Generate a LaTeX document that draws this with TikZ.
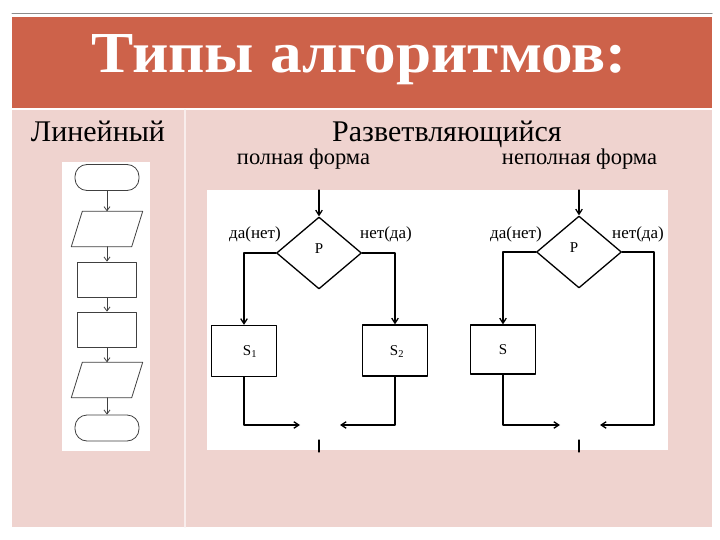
\documentclass[tikz,border=0pt]{standalone}
\usepackage{fontspec}
\setmainfont{Liberation Serif}
\usetikzlibrary{arrows.meta,shapes.geometric,positioning}
\definecolor{titlered}{RGB}{205,98,74}
\definecolor{bodypink}{RGB}{239,211,207}
\definecolor{rulegray}{RGB}{140,140,140}
\newcommand{\ioslant}{5.5pt}
\tikzset{
  flow line/.style={line width=.8pt,draw=black!75},
  flow arrow/.style={flow line,-{Straight Barb[length=4pt,width=6pt]}},
  branch line/.style={line width=1.3pt},
  branch arrow/.style={branch line,-{Straight Barb[length=5pt,width=6.5pt]}},
  start stop/.style={draw=black!75,line width=.8pt,rectangle,rounded corners=12pt,minimum width=64pt,minimum height=26pt,inner sep=0pt},
  io box/.style={rectangle,minimum width=60pt,minimum height=35pt,inner sep=0pt},
  step box/.style={draw=black!75,line width=.8pt,rectangle,minimum width=59pt,minimum height=35pt,inner sep=0pt},
  cond box/.style={draw,line width=1.3pt,diamond,minimum width=85pt,minimum height=72pt,inner sep=0pt},
  act box/.style={draw,line width=1.3pt,rectangle,minimum width=65pt,minimum height=51pt,inner sep=0pt},
  head label/.style={font=\fontsize{30}{30}\selectfont,inner sep=0pt,anchor=base},
  sub label/.style={font=\fontsize{22.5}{22.5}\selectfont,inner sep=0pt,anchor=base},
  branch label/.style={font=\fontsize{17}{17}\selectfont,inner sep=0pt,anchor=base},
  box label/.style={font=\fontsize{15}{15}\selectfont,inner sep=0pt,anchor=base}
}
\newcommand{\IOShape}[1]{\draw[flow line] ([xshift=-\ioslant]#1.south west) -- ([xshift=\ioslant]#1.north west)
  -- ([xshift=\ioslant]#1.north east) -- ([xshift=-\ioslant]#1.south east) -- cycle;}

\begin{document}
\begin{tikzpicture}[x=1pt,y=-1pt,line cap=round,line join=round]
  \useasboundingbox (0,0) rectangle (720,540);
  \fill[white] (0,0) rectangle (720,540);
  \draw[rulegray,line width=1pt] (12,14) -- (712,14);
  \fill[titlered] (12,17) rectangle (712,108);
  \fill[bodypink] (12,110) rectangle (712,527);
  \draw[white!60!bodypink,line width=1.2pt] (185,110) -- (185,527);
  \node[font=\fontsize{58}{58}\selectfont\bfseries,text=white,inner sep=0pt,anchor=base] (title) at (359,73) {\scalebox{1.09}[1]{Типы алгоритмов:}};

  \node[head label] (linear) at (98,142) {Линейный};
  \node[head label] (branching) at (447,142) {Разветвляющийся};
  \node[sub label] (fullform) at (303.5,165) {полная форма};
  \node[sub label] (partform) at (579.5,165) {неполная форма};

  \fill[white] (62,162) rectangle (150,451);
  \fill[white] (207,190) rectangle (668,450);

  \node[start stop] (begin) at (107,177.5) {};
  \node[io box] (input) at (107,229) {};
  \node[step box] (stepA) at (107,279.5) {};
  \node[step box] (stepB) at (107,329.5) {};
  \node[io box] (output) at (107,380) {};
  \node[start stop] (end) at (107,428) {};
  \foreach \p in {input,output} {\IOShape{\p}}
  \foreach \a/\b in {begin/input,input/stepA,stepA/stepB,stepB/output,output/end}
    {\draw[flow arrow] (\a) -- (\b);}

  \coordinate (in1) at (319,190);
  \node[cond box] (cond1) at (319,253) {};
  \node[act box] (act1) at (244,351) {};
  \node[act box] (act2) at (395,350.5) {};
  \coordinate (join1l) at (300,425);
  \coordinate (join1r) at (340,425);
  \coordinate (out1a) at (319,440);
  \coordinate (out1b) at (319,452);

  \draw[branch arrow] (in1) -- (cond1.north);
  \draw[branch arrow] (cond1.west) -| (act1.north);
  \draw[branch arrow] (cond1.east) -| (act2.north);
  \draw[branch arrow] (act1.south) |- (join1l);
  \draw[branch arrow] (act2.south) |- (join1r);
  \draw[branch line] (out1a) -- (out1b);

  \node[box label] (p1) at (319,253) {P};
  \node[box label] (s1) at (250,355) {S\textsubscript{1}};
  \node[box label] (s2) at (397,355) {S\textsubscript{2}};
  \node[branch label] (yes1) at (255,239) {да(нет)};
  \node[branch label] (no1) at (386,239) {нет(да)};

  \coordinate (in2) at (579,190);
  \node[cond box] (cond2) at (579,252) {};
  \node[act box,minimum height=49pt] (act3) at (503,349.5) {};
  \coordinate (turn2) at (654,425);
  \coordinate (join2l) at (560,425);
  \coordinate (join2r) at (600,425);
  \coordinate (out2a) at (579,440);
  \coordinate (out2b) at (579,452);

  \draw[branch arrow] (in2) -- (cond2.north);
  \draw[branch arrow] (cond2.west) -| (act3.north);
  \draw[branch arrow] (cond2.east) -| (turn2) -- (join2r);
  \draw[branch arrow] (act3.south) |- (join2l);
  \draw[branch line] (out2a) -- (out2b);

  \node[box label] (p2) at (574,252) {P};
  \node[box label] (s3) at (503,354) {S};
  \node[branch label] (yes2) at (516,239) {да(нет)};
  \node[branch label] (no2) at (638,239) {нет(да)};
\end{tikzpicture}
\end{document}
